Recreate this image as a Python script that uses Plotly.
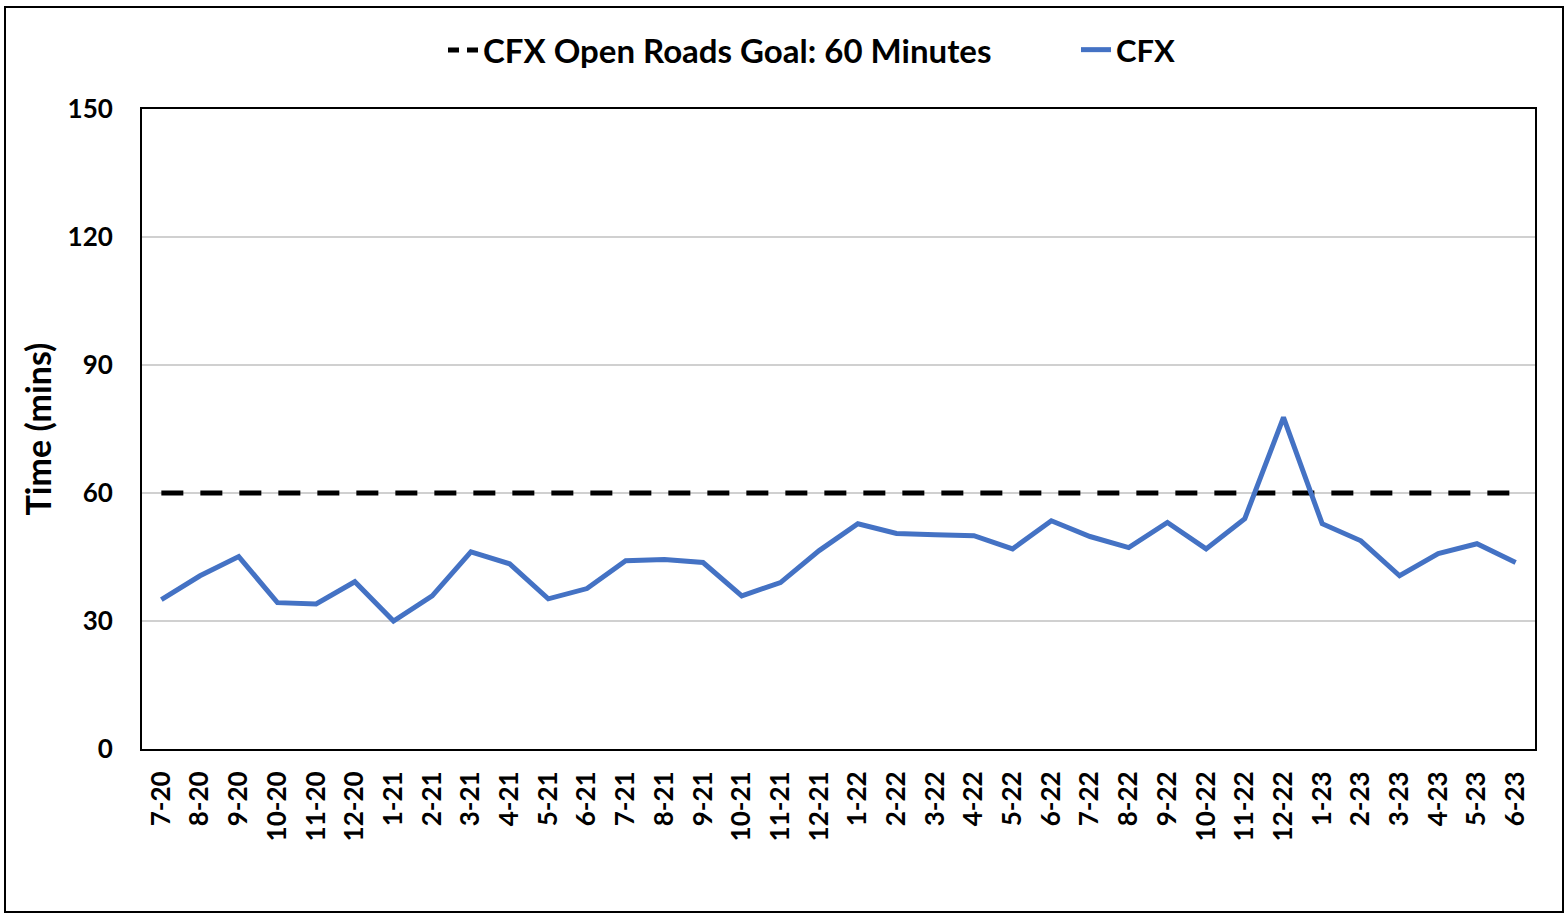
import plotly.graph_objects as go

months = ["7-20", "8-20", "9-20", "10-20", "11-20", "12-20", "1-21", "2-21", "3-21", "4-21",
          "5-21", "6-21", "7-21", "8-21", "9-21", "10-21", "11-21", "12-21", "1-22", "2-22",
          "3-22", "4-22", "5-22", "6-22", "7-22", "8-22", "9-22", "10-22", "11-22", "12-22",
          "1-23", "2-23", "3-23", "4-23", "5-23", "6-23"]

cfx_values = [35.0, 40.6, 45.1, 34.3, 34.0, 39.2, 30.0, 35.9, 46.2, 43.4,
              35.2, 37.6, 44.1, 44.4, 43.7, 35.9, 39.0, 46.5, 52.8, 50.5,
              50.2, 50.0, 46.9, 53.5, 49.8, 47.2, 53.1, 46.9, 54.0, 77.7,
              52.8, 48.8, 40.6, 45.8, 48.1, 43.7]

goal_value = 60
goal_values = [goal_value] * len(months)

y_ticks = [0, 30, 60, 90, 120, 150]

FONT = "Lato"
GOAL_NAME = "CFX Open Roads Goal: 60 Minutes"

fig = go.Figure()
fig.add_trace(go.Scatter(
    x=months, y=goal_values, mode="lines", name=GOAL_NAME, showlegend=False,
    line=dict(color="black", width=5, dash="22px,17px"),
))
# legend entry for the goal line (finer dash so two dashes show in the key)
fig.add_trace(go.Scatter(
    x=[None], y=[None], mode="lines", name=GOAL_NAME, showlegend=True, legend="legend",
    line=dict(color="black", width=5, dash="11px,8px"),
))
fig.add_trace(go.Scatter(
    x=months, y=cfx_values, mode="lines", name="CFX", legend="legend2",
    line=dict(color="#4472C4", width=5),
))

legend_y = (749 - 50) / 640

fig.update_layout(
    width=1567, height=914,
    margin=dict(l=142, r=32, t=109, b=165),
    paper_bgcolor="white", plot_bgcolor="white",
    font=dict(family=FONT, size=22, color="black"),
    showlegend=True,
    legend=dict(orientation="h", x=(443 - 142) / 1393, xanchor="left",
                y=legend_y, yanchor="middle",
                font=dict(family=FONT, size=33, color="black", weight="bold"),
                bgcolor="rgba(0,0,0,0)"),
    legend2=dict(orientation="h", x=(1076 - 142) / 1393, xanchor="left",
                 y=legend_y, yanchor="middle",
                 font=dict(family=FONT, size=31, color="black", weight="bold"),
                 bgcolor="rgba(0,0,0,0)"),
    xaxis=dict(
        type="category", tickangle=-90, showgrid=False,
        tickfont=dict(family=FONT, size=26, color="black", weight="bold"),
        showline=True, linecolor="black", linewidth=2, mirror=True,
        ticks="outside", ticklen=10, tickcolor="white",
        range=[-0.5, len(months) - 0.5],
    ),
    yaxis=dict(
        range=[0, 150], tickvals=y_ticks, ticktext=[str(v) for v in y_ticks],
        showgrid=True, gridcolor="#D0D0D0", gridwidth=2,
        tickfont=dict(family=FONT, size=26, color="black", weight="bold"),
        showline=True, linecolor="black", linewidth=2, mirror=True,
        ticks="outside", ticklen=22, tickcolor="white",
        zeroline=False,
        title=dict(text="Time (mins)", font=dict(family=FONT, size=34, color="black", weight="bold"),
                   standoff=6),
    ),
)

# outer chart border
fig.add_shape(type="rect", xref="paper", yref="paper",
              x0=(5 - 142) / 1393, x1=(1563 - 142) / 1393,
              y0=(749 - 912) / 640, y1=(749 - 7) / 640,
              line=dict(color="black", width=2), fillcolor="rgba(0,0,0,0)", layer="below")

fig.write_html("out.html", config={"displayModeBar": False},
               post_script="document.body.style.margin='0';")
